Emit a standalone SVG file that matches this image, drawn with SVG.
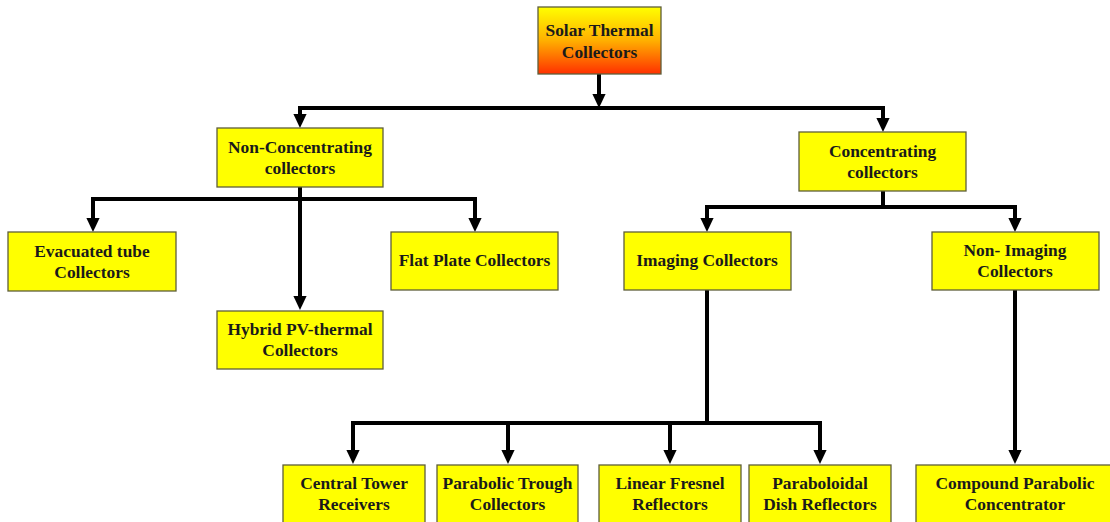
<svg xmlns="http://www.w3.org/2000/svg" width="1110" height="522" viewBox="0 0 1110 522">
<defs>
<linearGradient id="topGrad" x1="0" y1="0" x2="0" y2="1">
<stop offset="0" stop-color="#ffff00"/>
<stop offset="0.5" stop-color="#ffb000"/>
<stop offset="1" stop-color="#ff3000"/>
</linearGradient>
<marker id="arr" viewBox="0 0 10 10" refX="0" refY="5" markerWidth="3.5" markerHeight="3.3" preserveAspectRatio="none" markerUnits="strokeWidth" orient="auto">
<path d="M0,0 L10,5 L0,10 Z" fill="#000"/>
</marker>
<style>
.box{fill:#ffff00;stroke:#5e5e3a;stroke-width:1.3}
.t{font-family:"Liberation Serif","Times New Roman",serif;font-weight:bold;font-size:17.4px;fill:#1a1a1a;text-anchor:middle}
.c{fill:none;stroke:#000;stroke-width:4;stroke-linecap:square;stroke-linejoin:miter}
.a{fill:none;stroke:#000;stroke-width:4;stroke-linecap:butt;marker-end:url(#arr)}
</style>
</defs>
<rect width="1110" height="522" fill="#ffffff"/>

<g id="connectors">
<path class="a" d="M599,74 V94"/>
<path class="c" d="M300,108 H883"/>
<path class="a" d="M300,108 V114"/>
<path class="a" d="M883,108 V118"/>

<path class="a" d="M300,187 V296"/>
<path class="c" d="M93,199 H475"/>
<path class="a" d="M93,199 V218"/>
<path class="a" d="M475,199 V218"/>

<path class="c" d="M883,191 V207"/>
<path class="c" d="M707,207 H1015"/>
<path class="a" d="M707,207 V218"/>
<path class="a" d="M1015,207 V218"/>

<path class="c" d="M707,290 V423"/>
<path class="c" d="M353,423 H820"/>
<path class="a" d="M353,423 V450"/>
<path class="a" d="M508,423 V450"/>
<path class="a" d="M670,423 V450"/>
<path class="a" d="M820,423 V450"/>
<path class="a" d="M1015,290 V450"/>
</g>

<g id="solar-thermal">
<rect x="538" y="7" width="123" height="67" fill="url(#topGrad)" stroke="#5e5e3a" stroke-width="1.3"/>
<text class="t" x="599.5" y="36">Solar Thermal</text>
<text class="t" x="599.5" y="58">Collectors</text>
</g>

<g id="non-concentrating">
<rect class="box" x="217" y="128" width="166" height="59"/>
<text class="t" x="300" y="153">Non-Concentrating</text>
<text class="t" x="300" y="174">collectors</text>
</g>

<g id="evacuated-tube">
<rect class="box" x="8" y="232" width="168" height="59"/>
<text class="t" x="92" y="257">Evacuated tube</text>
<text class="t" x="92" y="278">Collectors</text>
</g>

<g id="flat-plate">
<rect class="box" x="391" y="232" width="167" height="58"/>
<text class="t" x="474.5" y="266">Flat Plate Collectors</text>
</g>

<g id="hybrid-pv">
<rect class="box" x="217" y="311" width="166" height="58"/>
<text class="t" x="300" y="335">Hybrid PV-thermal</text>
<text class="t" x="300" y="356">Collectors</text>
</g>

<g id="concentrating">
<rect class="box" x="799" y="132" width="167" height="59"/>
<text class="t" x="882.5" y="157">Concentrating</text>
<text class="t" x="882.5" y="178">collectors</text>
</g>

<g id="imaging">
<rect class="box" x="624" y="232" width="167" height="58"/>
<text class="t" x="707" y="266">Imaging Collectors</text>
</g>

<g id="non-imaging">
<rect class="box" x="932" y="232" width="167" height="58"/>
<text class="t" x="1015" y="256">Non- Imaging</text>
<text class="t" x="1015" y="277">Collectors</text>
</g>

<g id="central-tower">
<rect class="box" x="283" y="465" width="142" height="70"/>
<text class="t" x="354" y="489">Central Tower</text>
<text class="t" x="354" y="510">Receivers</text>
</g>

<g id="parabolic-trough">
<rect class="box" x="437" y="465" width="141" height="70"/>
<text class="t" x="507.5" y="489">Parabolic Trough</text>
<text class="t" x="507.5" y="510">Collectors</text>
</g>

<g id="linear-fresnel">
<rect class="box" x="599" y="465" width="142" height="70"/>
<text class="t" x="670" y="489">Linear Fresnel</text>
<text class="t" x="670" y="510">Reflectors</text>
</g>

<g id="paraboloidal-dish">
<rect class="box" x="749" y="465" width="142" height="70"/>
<text class="t" x="820" y="489">Paraboloidal</text>
<text class="t" x="820" y="510">Dish Reflectors</text>
</g>

<g id="compound-parabolic">
<rect class="box" x="916" y="465" width="210" height="70"/>
<text class="t" x="1015" y="489">Compound Parabolic</text>
<text class="t" x="1015" y="510">Concentrator</text>
</g>
</svg>
